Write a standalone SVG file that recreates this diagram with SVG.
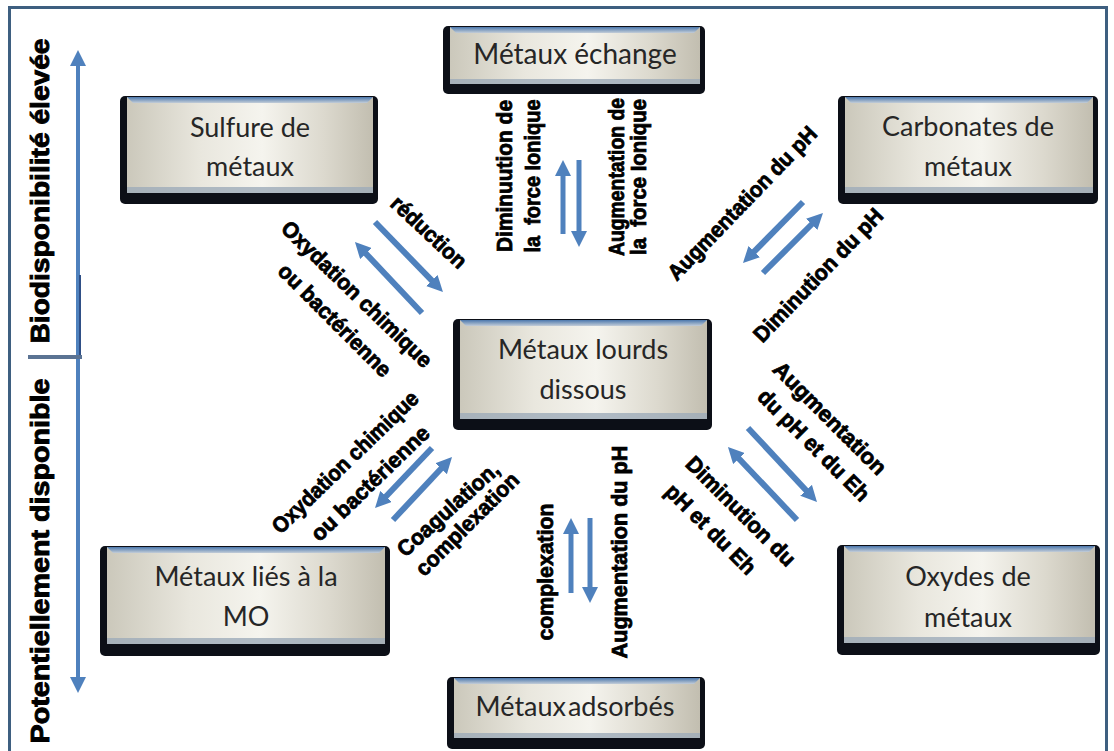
<svg xmlns="http://www.w3.org/2000/svg" width="1114" height="751" viewBox="0 0 1114 751">
<style>
.shadow{fill:#0c0f17}
.face{fill:url(#faceG)}
.btop{fill:url(#topG)}
.bbot{fill:#9eabb9;opacity:.8}
.bt{font-family:Lato,"Open Sans","Liberation Sans",sans-serif;font-size:27px;fill:#262626;text-anchor:middle}
.lbl{font-family:"Liberation Sans",Arial,sans-serif;font-weight:bold;font-size:22px;fill:#000;stroke:#000;stroke-width:0.8px;text-anchor:middle}
.ax{font-family:"Liberation Sans",Arial,sans-serif;font-weight:bold;font-size:26px;fill:#000;stroke:#000;stroke-width:0.9px;text-anchor:middle}
.arr{stroke:#4f81bd;stroke-width:6;fill:none;marker-end:url(#ah)}
.arrv{stroke:#4f81bd;stroke-width:5;fill:none;marker-end:url(#ah)}
</style>
<defs>
<linearGradient id="faceG" x1="0" y1="0" x2="1" y2="0">
<stop offset="0" stop-color="#cbc8bb"/>
<stop offset="0.3" stop-color="#e9e7de"/>
<stop offset="0.55" stop-color="#f5f4ee"/>
<stop offset="0.8" stop-color="#dcd9ce"/>
<stop offset="1" stop-color="#c2beb0"/>
</linearGradient>
<linearGradient id="topG" x1="0" y1="0" x2="0" y2="1">
<stop offset="0" stop-color="#4c78ad"/>
<stop offset="1" stop-color="#c3cdd8"/>
</linearGradient>
<marker id="ah" markerUnits="userSpaceOnUse" markerWidth="16" markerHeight="16" viewBox="0 0 16 16" refX="4" refY="8" orient="auto-start-reverse">
<path d="M0,0 L16,8 L0,16 z" fill="#4f81bd"/>
</marker>
</defs>
<rect width="1114" height="751" fill="#ffffff"/>
<path d="M9.5,751 V7.5 H1106.5 V751" fill="none" stroke="#3e5f80" stroke-width="3"/>

<g id="axis">
<line x1="78" y1="62" x2="78" y2="681" stroke="#4f81bd" stroke-width="4" marker-start="url(#ah)" marker-end="url(#ah)"/>
<line x1="80" y1="275" x2="80" y2="357" stroke="#2f4f86" stroke-width="2"/>
<line x1="28" y1="357" x2="82" y2="357" stroke="#5b7393" stroke-width="4"/>
<text class="ax" transform="translate(40,191) rotate(-90)" dy=".35em" textLength="305" lengthAdjust="spacingAndGlyphs">Biodisponibilité élevée</text>
<text class="ax" transform="translate(40,561) rotate(-90)" dy=".35em" textLength="365" lengthAdjust="spacingAndGlyphs">Potentiellement disponible</text>
</g>

<g id="n-sulfure">
<rect class="shadow" x="120" y="96" width="258" height="108" rx="5"/>
<rect class="face" x="127" y="97" width="246" height="96"/>
<path class="btop" d="M127,97 H373 L367,103 H133 Z"/>
<rect class="bbot" x="127" y="187" width="246" height="6"/>
<text class="bt" x="250" y="137">Sulfure de</text>
<text class="bt" x="250" y="176">métaux</text>
</g>

<g id="n-echange">
<rect class="shadow" x="443" y="26" width="262" height="68" rx="5"/>
<rect class="face" x="450" y="27" width="250" height="57"/>
<path class="btop" d="M450,27 H700 L694,33 H456 Z"/>
<rect class="bbot" x="450" y="79" width="250" height="5"/>
<text class="bt" x="575" y="64" style="font-size:28px">Métaux échange</text>
</g>

<g id="n-carbonates">
<rect class="shadow" x="838" y="96" width="260" height="108" rx="5"/>
<rect class="face" x="845" y="97" width="248" height="96"/>
<path class="btop" d="M845,97 H1093 L1087,103 H851 Z"/>
<rect class="bbot" x="845" y="187" width="248" height="6"/>
<text class="bt" x="968" y="136">Carbonates de</text>
<text class="bt" x="968" y="176">métaux</text>
</g>

<g id="n-dissous">
<rect class="shadow" x="453" y="319" width="259" height="111" rx="5"/>
<rect class="face" x="460" y="320" width="247" height="99"/>
<path class="btop" d="M460,320 H707 L701,326 H466 Z"/>
<rect class="bbot" x="460" y="413" width="247" height="6"/>
<text class="bt" x="583" y="359">Métaux lourds</text>
<text class="bt" x="583" y="399">dissous</text>
</g>

<g id="n-mo">
<rect class="shadow" x="100" y="546" width="290" height="110" rx="5"/>
<rect class="face" x="107" y="547" width="278" height="97"/>
<path class="btop" d="M107,547 H385 L379,553 H113 Z"/>
<rect class="bbot" x="107" y="638" width="278" height="6"/>
<text class="bt" x="246" y="586">Métaux  liés à la</text>
<text class="bt" x="246" y="626">MO</text>
</g>

<g id="n-oxydes">
<rect class="shadow" x="837" y="545" width="263" height="110" rx="5"/>
<rect class="face" x="844" y="546" width="251" height="97"/>
<path class="btop" d="M844,546 H1095 L1089,552 H850 Z"/>
<rect class="bbot" x="844" y="637" width="251" height="6"/>
<text class="bt" x="968" y="586">Oxydes de</text>
<text class="bt" x="968" y="627">métaux</text>
</g>

<g id="n-adsorbes">
<rect class="shadow" x="447" y="677" width="258" height="72" rx="5"/>
<rect class="face" x="454" y="678" width="246" height="60"/>
<path class="btop" d="M454,678 H700 L694,684 H460 Z"/>
<rect class="bbot" x="454" y="733" width="246" height="5"/>
<text class="bt" x="575" y="716" style="word-spacing:-5px">Métaux adsorbés</text>
</g>

<g id="connectors">
<line class="arrv" x1="563" y1="234" x2="563" y2="172"/>
<line class="arrv" x1="579" y1="160" x2="579" y2="235"/>
<line class="arr" x1="375" y1="222" x2="434.6" y2="283.4"/>
<line class="arr" x1="422" y1="313" x2="363.2" y2="250.7"/>
<line class="arr" x1="803" y1="202" x2="751.4" y2="254.4"/>
<line class="arr" x1="763" y1="273" x2="814.5" y2="221.5"/>
<line class="arr" x1="432" y1="448" x2="383.3" y2="499.3"/>
<line class="arr" x1="393" y1="520" x2="443.8" y2="465.8"/>
<line class="arrv" x1="571" y1="593" x2="571" y2="530"/>
<line class="arrv" x1="590" y1="518" x2="590" y2="591"/>
<line class="arr" x1="748" y1="428" x2="808.8" y2="493.2"/>
<line class="arr" x1="797" y1="520" x2="736.2" y2="455.7"/>
</g>

<g id="labels">
<text class="lbl" transform="translate(504,176) rotate(-90)" dy=".35em" textLength="152" lengthAdjust="spacingAndGlyphs">Diminuution de</text>
<text class="lbl" transform="translate(532,176) rotate(-90)" dy=".35em" textLength="153" lengthAdjust="spacingAndGlyphs" xml:space="preserve">la  force Ionique</text>
<text class="lbl" transform="translate(616,177) rotate(-90)" dy=".35em" textLength="158" lengthAdjust="spacingAndGlyphs">Augmentation de</text>
<text class="lbl" transform="translate(638,177) rotate(-90)" dy=".35em" textLength="156" lengthAdjust="spacingAndGlyphs" xml:space="preserve">la  force Ionique</text>

<text class="lbl" transform="translate(429,232) rotate(43)" dy=".35em" textLength="95" lengthAdjust="spacingAndGlyphs">réduction</text>
<text class="lbl" transform="translate(357,294) rotate(44)" dy=".35em" textLength="200" lengthAdjust="spacingAndGlyphs">Oxydation chimique</text>
<text class="lbl" transform="translate(335,320) rotate(45)" dy=".35em" textLength="150" lengthAdjust="spacingAndGlyphs">ou bactérienne</text>

<text class="lbl" transform="translate(742,203) rotate(-46)" dy=".35em" textLength="204" lengthAdjust="spacingAndGlyphs">Augmentation du pH</text>
<text class="lbl" transform="translate(818,275) rotate(-46)" dy=".35em" textLength="176" lengthAdjust="spacingAndGlyphs">Diminution du pH</text>

<text class="lbl" transform="translate(345,462) rotate(-44)" dy=".35em" textLength="194" lengthAdjust="spacingAndGlyphs">Oxydation chimique</text>
<text class="lbl" transform="translate(370,483) rotate(-44)" dy=".35em" textLength="155" lengthAdjust="spacingAndGlyphs">ou bactérienne</text>
<text class="lbl" transform="translate(448,509) rotate(-42)" dy=".35em" textLength="129" lengthAdjust="spacingAndGlyphs">Coagulation,</text>
<text class="lbl" transform="translate(467,524) rotate(-45)" dy=".35em" textLength="136" lengthAdjust="spacingAndGlyphs">complexation</text>

<text class="lbl" transform="translate(545,572) rotate(-90)" dy=".35em" textLength="137" lengthAdjust="spacingAndGlyphs">complexation</text>
<text class="lbl" transform="translate(619,552) rotate(-90)" dy=".35em" textLength="213" lengthAdjust="spacingAndGlyphs">Augmentation du pH</text>

<text class="lbl" transform="translate(830,418) rotate(45)" dy=".35em" textLength="150" lengthAdjust="spacingAndGlyphs">Augmentation</text>
<text class="lbl" transform="translate(814,445) rotate(45)" dy=".35em" textLength="148" lengthAdjust="spacingAndGlyphs">du pH et du Eh</text>
<text class="lbl" transform="translate(741,511) rotate(45)" dy=".35em" textLength="145" lengthAdjust="spacingAndGlyphs">Diminution du</text>
<text class="lbl" transform="translate(711,529) rotate(45)" dy=".35em" textLength="118" lengthAdjust="spacingAndGlyphs">pH et du Eh</text>
</g>
</svg>
